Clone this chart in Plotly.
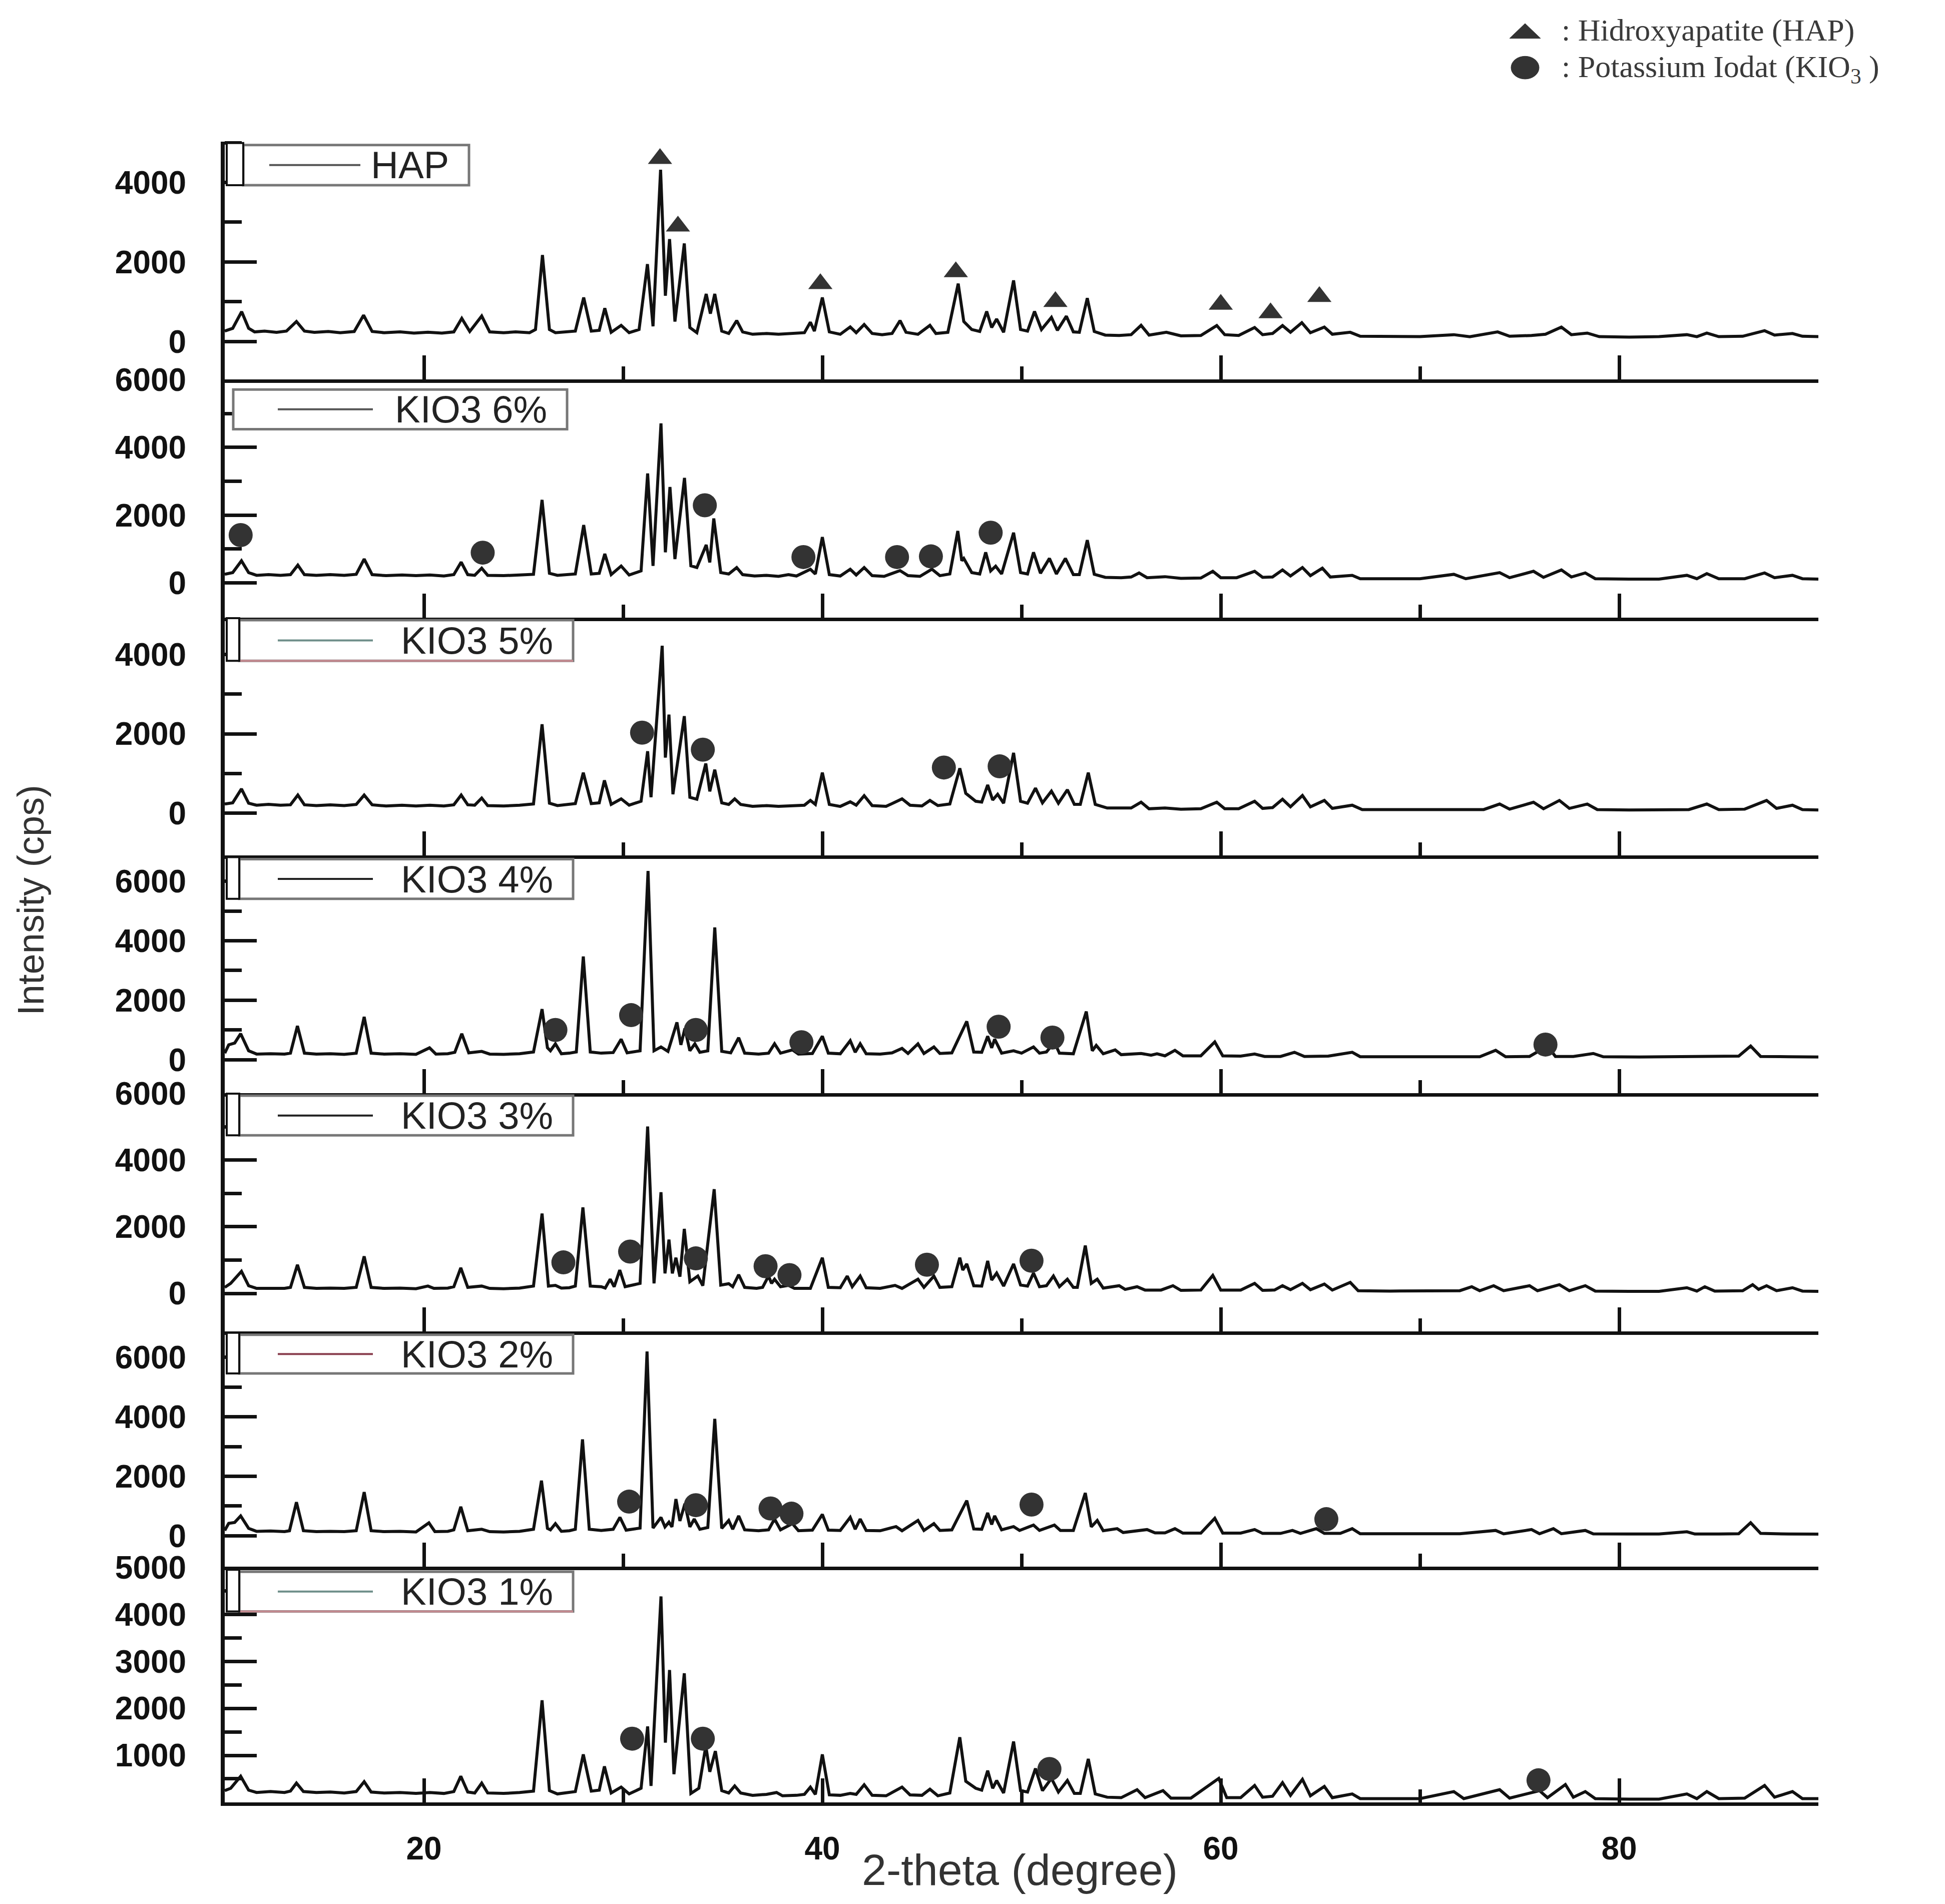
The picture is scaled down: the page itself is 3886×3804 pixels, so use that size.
import plotly.graph_objects as go

# ------------------------------------------------------------------ data
sample_names = ["HAP", "KIO3 6%", "KIO3 5%", "KIO3 4%", "KIO3 3%", "KIO3 2%", "KIO3 1%"]

x_major_ticks = [20, 40, 60, 80]
x_minor_ticks = [10, 30, 50, 70, 90]

y_major_ticks = [
    [0, 2000, 4000],
    [0, 2000, 4000, 6000],
    [0, 2000, 4000],
    [0, 2000, 4000, 6000],
    [0, 2000, 4000, 6000],
    [0, 2000, 4000, 6000],
    [1000, 2000, 3000, 4000, 5000],
]
y_minor_ticks = [
    [1000, 3000, 5000],
    [1000, 3000, 5000],
    [1000, 3000],
    [1000, 3000, 5000],
    [1000, 3000, 5000],
    [1000, 3000, 5000],
    [500, 1500, 2500, 3500, 4500],
]

# HAP
hap_2theta = [10.0, 10.4, 10.85, 11.2, 11.5, 12.0, 12.6, 13.1, 13.6, 14.0,
              14.5, 15.2, 15.8, 16.5, 16.97, 17.4, 18.0, 18.8, 19.5, 20.2,
              20.9, 21.5, 21.9, 22.3, 22.9, 23.3, 24.0, 24.6, 25.3, 25.6,
              25.95, 26.3, 26.6, 27.1, 27.6, 28.02, 28.4, 28.8, 29.08, 29.4,
              29.9, 30.3, 30.8, 31.22, 31.5, 31.88, 32.12, 32.33, 32.6, 33.07,
              33.35, 33.7, 34.17, 34.38, 34.6, 34.95, 35.3, 35.7, 36.0, 36.5,
              37.2, 37.8, 38.5, 39.1, 39.4, 39.6, 40.0, 40.35, 40.9, 41.4,
              41.7, 42.1, 42.5, 43.0, 43.5, 43.9, 44.2, 44.8, 45.4, 45.7,
              46.3, 46.82, 47.1, 47.5, 47.9, 48.25, 48.5, 48.75, 49.1, 49.6,
              49.95, 50.3, 50.65, 51.0, 51.5, 51.8, 52.25, 52.6, 52.9, 53.3,
              53.65, 54.2, 54.9, 55.5, 56.0, 56.4, 57.27, 58.0, 59.0, 59.8,
              60.2, 60.9, 61.7, 62.1, 62.6, 63.1, 63.5, 64.07, 64.5, 65.2,
              65.6, 66.5, 67.0, 68.5, 70.0, 71.7, 72.5, 73.9, 74.5, 75.6,
              76.3, 77.1, 77.6, 78.4, 79.0, 80.5, 82.0, 83.4, 83.9, 84.4,
              85.0, 86.2, 87.3, 87.8, 88.7, 89.2, 90.0]
hap_cps = [260, 330, 750, 330, 240, 260, 230, 260, 500, 260,
           230, 250, 220, 250, 660, 250, 220, 240, 210, 230,
           210, 240, 580, 250, 640, 240, 220, 240, 220, 300,
           2175, 300, 220, 240, 260, 1105, 260, 280, 835, 230,
           405, 220, 300, 1945, 380, 4320, 1150, 2575, 500, 2465,
           350, 220, 1195, 700, 1195, 260, 200, 525, 240, 180,
           200, 180, 200, 220, 485, 260, 1105, 240, 180, 365,
           220, 425, 200, 170, 200, 525, 230, 180, 405, 200,
           230, 1455, 500, 300, 250, 755, 350, 565, 230, 1535,
           300, 260, 755, 300, 605, 280, 635, 240, 230, 1090,
           250, 160, 150, 170, 405, 160, 230, 140, 150, 400,
           170, 150, 350, 170, 200, 400, 230, 470, 220, 360,
           180, 230, 130, 130, 120, 170, 120, 240, 130, 150,
           180, 360, 170, 210, 120, 110, 120, 170, 120, 210,
           120, 130, 270, 160, 200, 130, 120]

# KIO3 6%
k6_2theta = [10.0, 10.4, 10.84, 11.2, 11.6, 12.2, 12.8, 13.3, 13.67, 14.0,
             14.6, 15.3, 16.0, 16.6, 17.0, 17.4, 18.1, 18.9, 19.6, 20.3,
             21.0, 21.5, 21.87, 22.2, 22.55, 22.9, 23.2, 24.0, 24.8, 25.5,
             25.93, 26.3, 26.7, 27.2, 27.6, 28.02, 28.4, 28.8, 29.08, 29.4,
             29.9, 30.3, 30.9, 31.23, 31.5, 31.9, 32.12, 32.35, 32.6, 33.08,
             33.4, 33.7, 34.17, 34.35, 34.55, 34.9, 35.3, 35.7, 36.0, 36.6,
             37.2, 37.8, 38.3, 38.7, 39.4, 39.65, 40.0, 40.35, 40.9, 41.4,
             41.7, 42.1, 42.5, 43.1, 43.9, 44.3, 44.9, 45.5, 45.9, 46.4,
             46.8, 47.0, 47.1, 47.5, 47.9, 48.2, 48.45, 48.7, 49.0, 49.6,
             49.95, 50.3, 50.6, 50.95, 51.4, 51.75, 52.2, 52.6, 52.9, 53.3,
             53.65, 54.2, 55.0, 55.5, 55.9, 56.3, 57.2, 58.0, 59.0, 59.6,
             60.0, 60.8, 61.7, 62.1, 62.6, 63.1, 63.5, 64.1, 64.5, 65.1,
             65.5, 66.6, 67.0, 68.5, 70.0, 71.7, 72.3, 74.0, 74.5, 75.7,
             76.2, 77.1, 77.6, 78.3, 78.8, 80.5, 82.0, 83.4, 83.9, 84.4,
             85.0, 86.3, 87.3, 87.8, 88.7, 89.2, 90.0]
k6_cps = [250, 300, 650, 300, 220, 240, 220, 240, 520, 240,
          220, 240, 220, 250, 700, 240, 210, 230, 210, 230,
          200, 240, 610, 240, 220, 430, 220, 210, 230, 250,
          2450, 280, 220, 240, 260, 1705, 260, 280, 855, 240,
          495, 230, 350, 3230, 500, 4710, 900, 2830, 700, 3100,
          500, 450, 1120, 600, 1900, 300, 260, 450, 240, 200,
          220, 190, 240, 200, 400, 260, 1350, 240, 200, 400,
          230, 450, 210, 190, 360, 210, 190, 400, 210, 260,
          1530, 650, 720, 300, 260, 900, 350, 490, 260, 1480,
          300, 260, 900, 280, 720, 260, 720, 240, 240, 1260,
          250, 160, 150, 170, 290, 150, 180, 130, 140, 340,
          150, 150, 340, 160, 170, 380, 200, 450, 210, 430,
          170, 220, 120, 120, 120, 250, 120, 300, 150, 340,
          160, 380, 170, 290, 120, 110, 110, 220, 120, 270,
          120, 120, 290, 150, 220, 120, 110]

# KIO3 5%
k5_2theta = [10.0, 10.4, 10.84, 11.2, 11.6, 12.2, 12.8, 13.3, 13.67, 14.0,
             14.6, 15.3, 16.0, 16.6, 17.0, 17.4, 18.1, 18.9, 19.6, 20.3,
             21.0, 21.5, 21.87, 22.2, 22.55, 22.9, 23.2, 24.0, 24.8, 25.5,
             25.93, 26.3, 26.7, 27.2, 27.6, 28.0, 28.4, 28.8, 29.06, 29.4,
             29.9, 30.3, 30.9, 31.23, 31.4, 31.96, 32.12, 32.3, 32.5, 33.07,
             33.35, 33.7, 34.15, 34.35, 34.6, 34.95, 35.3, 35.6, 35.9, 36.5,
             37.2, 37.8, 38.5, 39.1, 39.4, 39.65, 40.0, 40.35, 40.9, 41.4,
             41.7, 42.1, 42.5, 43.2, 44.0, 44.4, 45.0, 45.4, 45.8, 46.4,
             46.9, 47.2, 47.7, 48.0, 48.3, 48.55, 48.8, 49.1, 49.6, 49.95,
             50.3, 50.7, 51.05, 51.5, 51.85, 52.3, 52.65, 52.95, 53.35, 53.7,
             54.3, 55.0, 55.5, 56.0, 56.4, 57.2, 58.0, 59.0, 59.8, 60.2,
             60.9, 61.7, 62.1, 62.6, 63.1, 63.5, 64.1, 64.5, 65.2, 65.6,
             66.6, 67.1, 68.5, 70.0, 72.0, 73.2, 74.0, 74.5, 75.7, 76.2,
             77.0, 77.5, 78.4, 78.9, 80.5, 82.0, 83.5, 84.4, 85.0, 86.3,
             87.4, 87.9, 88.7, 89.2, 90.0]
k5_cps = [230, 260, 610, 250, 200, 220, 200, 210, 455, 210,
          190, 210, 190, 220, 455, 210, 180, 200, 180, 200,
          180, 210, 455, 210, 200, 380, 190, 180, 200, 230,
          2240, 250, 190, 210, 240, 1020, 240, 260, 825, 220,
          360, 200, 300, 1560, 400, 4220, 1400, 2485, 475, 2445,
          400, 350, 1250, 550, 1095, 260, 220, 360, 220, 170,
          190, 170, 190, 200, 320, 220, 1020, 220, 170, 285,
          200, 440, 190, 170, 360, 200, 180, 320, 190, 230,
          1130, 500, 300, 280, 710, 330, 475, 250, 1520, 300,
          250, 630, 260, 555, 250, 590, 220, 220, 1020, 220,
          130, 120, 130, 275, 110, 130, 100, 110, 275, 110,
          110, 300, 120, 140, 350, 160, 445, 160, 320, 120,
          200, 90, 90, 80, 90, 90, 230, 100, 275, 110,
          320, 120, 230, 90, 80, 80, 90, 230, 90, 100,
          320, 120, 200, 90, 80]

# KIO3 4%
k4_2theta = [10.0, 10.2, 10.5, 10.8, 11.2, 11.6, 12.3, 13.0, 13.3, 13.65,
             14.0, 14.6, 15.3, 16.0, 16.6, 17.0, 17.35, 18.0, 18.8, 19.6,
             20.28, 20.6, 21.2, 21.55, 21.9, 22.25, 22.9, 23.3, 24.0, 24.8,
             25.5, 25.93, 26.2, 26.35, 26.6, 26.9, 27.3, 27.65, 28.0, 28.35,
             28.9, 29.5, 29.9, 30.2, 30.85, 31.25, 31.55, 31.9, 32.25, 32.7,
             32.9, 33.1, 33.35, 33.6, 33.85, 34.25, 34.6, 34.95, 35.4, 35.8,
             36.1, 36.8, 37.3, 37.6, 37.9, 38.5, 38.8, 39.5, 40.0, 40.3,
             40.9, 41.4, 41.65, 41.9, 42.2, 42.9, 43.5, 44.0, 44.3, 44.8,
             45.1, 45.6, 45.9, 46.5, 47.25, 47.6, 48.0, 48.3, 48.5, 48.65,
             49.0, 49.6, 50.0, 50.6, 50.9, 51.25, 51.65, 51.9, 52.6, 53.25,
             53.55, 53.75, 54.1, 54.7, 55.0, 56.0, 56.5, 56.8, 57.2, 57.7,
             58.1, 59.0, 59.7, 60.1, 61.0, 61.7, 62.2, 63.0, 63.7, 64.2,
             65.4, 66.6, 67.0, 68.5, 70.0, 72.0, 73.0, 73.8, 74.3, 75.5,
             76.4, 76.8, 77.7, 78.7, 79.2, 81.0, 83.0, 84.5, 86.0, 86.6,
             87.1, 88.5, 90.0]
k4_cps = [220, 500, 560, 875, 300, 190, 200, 190, 220, 1135,
          220, 190, 200, 180, 220, 1440, 220, 190, 200, 180,
          400, 190, 200, 250, 875, 230, 280, 190, 180, 200,
          260, 1700, 400, 300, 535, 200, 220, 260, 3470, 260,
          220, 240, 690, 230, 300, 6350, 300, 430, 280, 1255,
          500, 1050, 300, 535, 250, 300, 4450, 280, 230, 740,
          220, 190, 220, 535, 220, 330, 190, 210, 790, 220,
          200, 640, 250, 535, 200, 190, 230, 380, 210, 535,
          210, 430, 210, 230, 1290, 260, 250, 790, 400, 690,
          220, 300, 220, 430, 220, 260, 590, 220, 200, 1620,
          300, 480, 200, 330, 170, 210, 150, 200, 130, 315,
          130, 130, 600, 130, 120, 190, 110, 110, 250, 110,
          120, 250, 100, 100, 95, 100, 100, 315, 100, 110,
          460, 110, 110, 210, 100, 90, 100, 100, 120, 460,
          110, 100, 90]

# KIO3 3%
k3_2theta = [10.0, 10.3, 10.84, 11.2, 11.6, 12.3, 13.0, 13.3, 13.65, 14.0,
             14.6, 15.3, 16.0, 16.6, 17.0, 17.35, 18.0, 18.8, 19.6, 20.2,
             20.5, 21.2, 21.5, 21.85, 22.2, 22.9, 23.3, 24.0, 24.8, 25.5,
             25.93, 26.25, 26.6, 26.9, 27.3, 27.6, 27.98, 28.35, 28.9, 29.1,
             29.35, 29.55, 29.83, 30.1, 30.85, 31.23, 31.55, 31.9, 32.1, 32.3,
             32.47, 32.65, 32.85, 33.07, 33.35, 33.75, 34.0, 34.57, 34.9, 35.3,
             35.5, 35.8, 36.1, 36.7, 37.0, 37.3, 37.45, 37.6, 37.9, 38.3,
             38.6, 39.4, 40.0, 40.3, 40.9, 41.25, 41.5, 41.9, 42.2, 42.9,
             43.65, 44.0, 44.8, 45.1, 45.6, 45.9, 46.5, 46.9, 47.05, 47.25,
             47.6, 48.0, 48.3, 48.5, 48.75, 49.1, 49.6, 49.95, 50.3, 50.6,
             50.9, 51.25, 51.6, 51.9, 52.3, 52.6, 52.8, 53.2, 53.5, 53.8,
             54.1, 54.9, 55.2, 55.8, 56.2, 57.0, 57.6, 58.0, 59.0, 59.6,
             60.0, 61.0, 61.7, 62.1, 62.7, 63.1, 63.5, 64.1, 64.5, 65.2,
             65.6, 66.5, 66.9, 68.5, 70.0, 72.0, 72.6, 73.0, 73.7, 74.2,
             75.5, 75.9, 77.0, 77.5, 78.3, 78.8, 80.5, 82.0, 83.4, 83.9,
             84.3, 84.8, 86.2, 86.7, 87.0, 87.4, 87.9, 88.7, 89.2, 90.0]
k3_cps = [180, 300, 660, 230, 150, 160, 150, 180, 860, 180,
          150, 160, 150, 180, 1110, 180, 150, 160, 140, 220,
          150, 160, 200, 765, 180, 220, 150, 140, 160, 220,
          2395, 220, 240, 160, 170, 220, 2580, 220, 200, 160,
          425, 200, 700, 200, 300, 5005, 300, 3035, 600, 1615,
          600, 1070, 500, 1935, 350, 520, 230, 3125, 250, 290,
          200, 560, 180, 150, 180, 520, 300, 425, 200, 240,
          150, 150, 1070, 180, 170, 520, 200, 520, 170, 150,
          240, 150, 425, 180, 520, 180, 200, 1070, 700, 885,
          230, 220, 975, 400, 610, 220, 885, 250, 220, 610,
          200, 230, 520, 200, 425, 180, 180, 1435, 300, 425,
          160, 230, 120, 200, 100, 100, 230, 90, 100, 540,
          100, 100, 300, 90, 100, 230, 110, 300, 110, 280,
          100, 330, 80, 70, 70, 80, 200, 80, 230, 80,
          230, 80, 260, 80, 230, 70, 60, 60, 170, 70,
          200, 70, 80, 260, 120, 230, 80, 170, 70, 60]

# KIO3 2%
k2_2theta = [10.0, 10.2, 10.5, 10.8, 11.2, 11.6, 12.3, 13.0, 13.25, 13.6,
             13.95, 14.6, 15.3, 16.0, 16.6, 17.0, 17.35, 18.0, 18.8, 19.6,
             20.25, 20.55, 21.2, 21.5, 21.85, 22.2, 22.9, 23.3, 24.0, 24.8,
             25.5, 25.9, 26.2, 26.35, 26.6, 26.9, 27.3, 27.6, 27.96, 28.3,
             28.9, 29.5, 29.84, 30.15, 30.85, 31.2, 31.5, 31.9, 32.1, 32.3,
             32.45, 32.65, 32.85, 33.1, 33.35, 33.57, 33.85, 34.25, 34.6, 34.95,
             35.3, 35.5, 35.8, 36.1, 36.8, 37.3, 37.6, 37.9, 38.5, 38.8,
             39.5, 40.0, 40.3, 40.9, 41.4, 41.65, 41.9, 42.2, 42.9, 43.7,
             44.0, 44.8, 45.1, 45.6, 45.9, 46.5, 47.25, 47.6, 48.0, 48.3,
             48.5, 48.65, 49.0, 49.6, 49.9, 50.6, 50.9, 51.65, 51.95, 52.6,
             53.2, 53.5, 53.8, 54.1, 54.8, 55.1, 56.3, 56.7, 57.2, 57.7,
             58.1, 59.0, 59.7, 60.1, 61.0, 61.7, 62.1, 63.0, 63.6, 64.0,
             64.8, 65.2, 66.0, 66.6, 67.0, 68.5, 70.0, 72.0, 73.8, 74.2,
             75.6, 76.0, 76.7, 77.1, 78.3, 78.7, 80.5, 82.0, 83.4, 83.8,
             85.0, 86.0, 86.6, 87.1, 88.5, 90.0]
k2_cps = [180, 420, 450, 670, 250, 150, 160, 140, 170, 1130,
          170, 140, 150, 140, 170, 1470, 170, 140, 150, 130,
          435, 140, 150, 200, 975, 170, 220, 140, 130, 150,
          220, 1855, 250, 200, 410, 150, 170, 220, 3245, 220,
          180, 220, 620, 190, 260, 6200, 260, 620, 300, 460,
          300, 1235, 500, 1080, 300, 565, 220, 280, 3935, 250,
          515, 220, 670, 200, 170, 200, 565, 200, 410, 170,
          190, 720, 190, 180, 620, 220, 565, 180, 170, 310,
          170, 515, 180, 410, 180, 200, 1185, 230, 220, 770,
          380, 670, 200, 310, 180, 360, 180, 360, 180, 180,
          1440, 300, 515, 170, 240, 110, 210, 100, 100, 240,
          90, 90, 590, 90, 90, 210, 80, 80, 180, 80,
          240, 80, 80, 240, 70, 70, 65, 70, 180, 65,
          210, 70, 240, 70, 180, 65, 60, 60, 135, 60,
          60, 70, 440, 80, 60, 57]

# KIO3 1%
k1_2theta = [10.0, 10.3, 10.8, 11.2, 11.6, 12.3, 13.0, 13.3, 13.6, 13.95,
             14.6, 15.3, 16.0, 16.6, 17.0, 17.35, 18.0, 18.8, 19.6, 20.3,
             21.0, 21.5, 21.85, 22.2, 22.55, 22.9, 23.2, 24.0, 24.8, 25.5,
             25.93, 26.3, 26.7, 27.2, 27.6, 28.0, 28.4, 28.8, 29.06, 29.4,
             29.9, 30.3, 30.9, 31.23, 31.4, 31.9, 32.12, 32.33, 32.55, 33.07,
             33.4, 33.8, 34.15, 34.35, 34.63, 34.95, 35.3, 35.6, 35.9, 36.5,
             37.2, 37.7, 38.0, 38.7, 39.1, 39.4, 39.65, 40.0, 40.35, 40.9,
             41.4, 41.7, 42.1, 42.5, 43.2, 44.0, 44.4, 45.0, 45.4, 45.8,
             46.4, 46.9, 47.2, 47.7, 48.0, 48.3, 48.55, 48.75, 49.1, 49.6,
             49.95, 50.3, 50.7, 51.05, 51.5, 51.85, 52.3, 52.65, 52.95, 53.35,
             53.7, 54.3, 55.0, 55.8, 56.2, 57.1, 57.5, 58.5, 59.9, 60.3,
             61.0, 61.7, 62.1, 62.6, 63.1, 63.5, 64.1, 64.5, 65.2, 65.6,
             66.6, 67.0, 68.5, 70.0, 71.7, 72.2, 74.0, 74.5, 76.0, 76.4,
             77.3, 77.7, 78.3, 78.8, 80.5, 82.0, 83.4, 83.9, 84.4, 85.0,
             86.3, 87.3, 87.8, 88.7, 89.2, 90.0]
k1_cps = [250, 300, 555, 260, 210, 230, 210, 240, 410, 230,
          210, 220, 200, 230, 440, 220, 200, 210, 190, 210,
          190, 230, 555, 220, 200, 410, 200, 190, 210, 240,
          2170, 250, 180, 200, 230, 1020, 240, 260, 765, 200,
          325, 180, 300, 1615, 350, 4380, 1270, 2815, 600, 2745,
          190, 300, 1200, 650, 1090, 250, 200, 350, 200, 150,
          170, 210, 140, 150, 170, 325, 170, 1020, 160, 150,
          190, 170, 375, 150, 140, 325, 160, 150, 280, 140,
          200, 1385, 450, 300, 260, 675, 300, 465, 200, 1295,
          250, 220, 720, 250, 510, 220, 465, 190, 190, 925,
          180, 110, 100, 270, 100, 250, 90, 90, 510, 100,
          100, 360, 110, 130, 420, 150, 490, 140, 340, 100,
          180, 80, 80, 80, 230, 80, 270, 90, 250, 100,
          380, 110, 230, 80, 70, 70, 180, 80, 230, 80,
          90, 360, 110, 230, 80, 80]

# phase markers: triangles = HAP, dots = KIO3
hap_tri_2theta = [31.85, 32.75, 39.9, 46.7, 51.7, 60.0, 62.5, 64.95]
hap_tri_cps = [4600, 2900, 1450, 1750, 1000, 930, 715, 1125]
k6_dot_2theta = [10.8, 22.95, 34.1, 39.05, 43.75, 45.45, 48.45]
k6_dot_cps = [1410, 890, 2290, 760, 760, 780, 1480]
k5_dot_2theta = [30.95, 34.0, 46.1, 48.9]
k5_dot_cps = [2030, 1600, 1150, 1180]
k4_dot_2theta = [26.6, 30.4, 33.65, 38.95, 48.85, 51.55, 76.3]
k4_dot_cps = [1000, 1500, 1000, 590, 1110, 745, 510]
k3_dot_2theta = [27.0, 30.35, 33.65, 37.15, 38.35, 45.25, 50.5]
k3_dot_cps = [930, 1255, 1050, 815, 550, 860, 980]
k2_dot_2theta = [30.3, 33.65, 37.4, 38.45, 50.5, 65.3]
k2_dot_cps = [1150, 1030, 920, 745, 1050, 560]
k1_dot_2theta = [30.45, 34.0, 51.4, 75.95]
k1_dot_cps = [1355, 1355, 710, 470]

# ------------------------------------------------------------------ layout constants
W, H = 3886, 3804
X_LEFT, X_RIGHT = 441, 3625
EDGES = [242, 722, 1202, 1681, 2161, 2641, 3116, 3591]
Y_RANGES = [[-960, 5030], [-1030, 6005], [-1060, 4930], [-1127, 6880],
            [-1136, 6005], [-1043, 6880], [0, 5010]]
LEGEND_BOX = [(478, 929, 249, 330), (458, 1125, 742, 822), (470, 1137, 1207, 1289),
              (470, 1137, 1689, 1769), (470, 1137, 2166, 2246), (470, 1137, 2648, 2726),
              (470, 1137, 3126, 3206)]
SAMPLE_COLORS = ["#555555", "#555555", "#6f8f8a", "#222222", "#222222", "#8a4050", "#6f8f8a"]

INK = "#111111"
MARK = "#333333"


def px(x):
    return x / W


def py(y):
    return 1 - y / H


series = [
    (hap_2theta, hap_cps, hap_tri_2theta, hap_tri_cps, "triangle-up"),
    (k6_2theta, k6_cps, k6_dot_2theta, k6_dot_cps, "circle"),
    (k5_2theta, k5_cps, k5_dot_2theta, k5_dot_cps, "circle"),
    (k4_2theta, k4_cps, k4_dot_2theta, k4_dot_cps, "circle"),
    (k3_2theta, k3_cps, k3_dot_2theta, k3_dot_cps, "circle"),
    (k2_2theta, k2_cps, k2_dot_2theta, k2_dot_cps, "circle"),
    (k1_2theta, k1_cps, k1_dot_2theta, k1_dot_cps, "circle"),
]

fig = go.Figure()
layout_axes = {}
shapes = []
annotations = []

for i, (tt, cps, mx, my, sym) in enumerate(series):
    suffix = "" if i == 0 else str(i + 1)
    xa, ya = "x" + suffix, "y" + suffix
    fig.add_trace(go.Scatter(x=tt, y=cps, mode="lines", xaxis=xa, yaxis=ya,
                             line=dict(color=INK, width=6), name=sample_names[i],
                             showlegend=False, hoverinfo="skip"))
    fig.add_trace(go.Scatter(x=mx, y=my, mode="markers", xaxis=xa, yaxis=ya,
                             marker=dict(symbol=sym, size=42 if sym == "triangle-up" else 48,
                                         color=MARK, line=dict(width=0)),
                             showlegend=False, hoverinfo="skip"))
    top, bottom = EDGES[i], EDGES[i + 1]
    last = i == len(series) - 1
    layout_axes["xaxis" + suffix] = dict(
        domain=[px(X_LEFT), px(X_RIGHT)], range=[10, 90], anchor=ya,
        showline=True, linewidth=7, linecolor=INK, mirror=False,
        ticks="inside", ticklen=48, tickwidth=7, tickcolor=INK,
        tickvals=x_major_ticks, ticktext=[str(v) for v in x_major_ticks],
        showticklabels=last, ticklabelstandoff=30,
        tickfont=dict(family="Liberation Sans", size=64, color=INK, weight="bold"),
        minor=dict(tickvals=x_minor_ticks, ticks="inside", ticklen=26, tickwidth=7,
                   tickcolor=INK, showgrid=False),
        showgrid=False, zeroline=False,
    )
    layout_axes["yaxis" + suffix] = dict(
        domain=[py(bottom), py(top)], range=Y_RANGES[i], anchor=xa,
        showline=True, linewidth=8, linecolor=INK,
        ticks="inside", ticklen=64, tickwidth=7, tickcolor=INK,
        tickvals=y_major_ticks[i], ticktext=[str(v) for v in y_major_ticks[i]],
        ticklabelstandoff=56,
        tickfont=dict(family="Liberation Sans", size=64, color=INK, weight="bold"),
        minor=dict(tickvals=y_minor_ticks[i], ticks="inside", ticklen=34, tickwidth=7,
                   tickcolor=INK, showgrid=False),
        showgrid=False, zeroline=False,
    )

    # legend box of the panel
    bx0, bx1, by0, by1 = LEGEND_BOX[i]
    shapes.append(dict(type="rect", xref="paper", yref="paper", layer="above",
                       x0=px(bx0), x1=px(bx1), y0=py(by1), y1=py(by0),
                       line=dict(color="#777777", width=5), fillcolor="white"))
    if i in (2, 6):
        shapes.append(dict(type="line", xref="paper", yref="paper", layer="above",
                           x0=px(bx0), x1=px(bx1), y0=py(by1), y1=py(by1),
                           line=dict(color="#c48a90", width=4)))
    if i != 1:
        shapes.append(dict(type="rect", xref="paper", yref="paper", layer="above",
                           x0=px(X_LEFT + 4), x1=px(bx0), y0=py(by1), y1=py(by0 - 4),
                           line=dict(color=INK, width=4), fillcolor="white"))
    cy = (by0 + by1) / 2
    shapes.append(dict(type="line", xref="paper", yref="paper", layer="above",
                       x0=px(547 if i else 530), x1=px(737 if i else 712), y0=py(cy), y1=py(cy),
                       line=dict(color=SAMPLE_COLORS[i], width=4)))
    annotations.append(dict(xref="paper", yref="paper", x=px(bx1 - 38), y=py(cy),
                            xanchor="right", yanchor="middle", showarrow=False,
                            text=sample_names[i],
                            font=dict(family="Liberation Sans", size=76, color="#222222")))

# top-right phase key
shapes.append(dict(type="path", xref="paper", yref="paper", layer="above",
                   path=f"M {px(3008)},{py(34)} L {px(3070)},{py(34)} L {px(3039)},{py(4)} Z",
                   fillcolor="#333333", line=dict(color="#333333", width=1)))
shapes.append(dict(type="circle", xref="paper", yref="paper", layer="above",
                   x0=px(3011), x1=px(3067), y0=py(116), y1=py(70),
                   fillcolor="#333333", line=dict(color="#333333", width=1)))
annotations.append(dict(xref="paper", yref="paper", x=px(3110), y=py(18), xanchor="left",
                        yanchor="middle", showarrow=False, text=": Hidroxyapatite (HAP)",
                        font=dict(family="Liberation Serif", size=62, color="#3a3a3a")))
annotations.append(dict(xref="paper", yref="paper", x=px(3110), y=py(95), xanchor="left",
                        yanchor="middle", showarrow=False,
                        text=": Potassium Iodat (KIO<sub>3</sub> )",
                        font=dict(family="Liberation Serif", size=62, color="#3a3a3a")))

# axis titles
annotations.append(dict(xref="paper", yref="paper", x=px(2029), y=py(3727), xanchor="center",
                        yanchor="middle", showarrow=False, text="2-theta (degree)",
                        font=dict(family="Liberation Sans", size=88, color="#333333")))
annotations.append(dict(xref="paper", yref="paper", x=px(54), y=py(1772), xanchor="center",
                        yanchor="middle", showarrow=False, text="Intensity (cps)", textangle=-90,
                        font=dict(family="Liberation Sans", size=74, color="#333333")))

fig.update_layout(width=W, height=H, margin=dict(l=0, r=0, t=0, b=0),
                  paper_bgcolor="white", plot_bgcolor="white",
                  showlegend=False, shapes=shapes, annotations=annotations, **layout_axes)

fig.write_html("out.html")
